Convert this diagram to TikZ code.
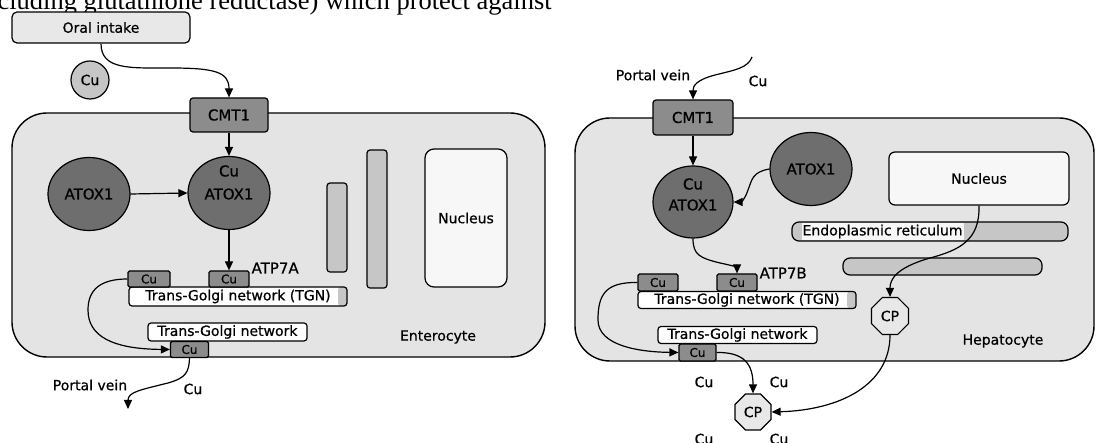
\documentclass[tikz,border=0pt]{standalone}
\usepackage{fontspec}
\setmainfont{DejaVu Sans}[UprightFeatures={FakeBold=0.7}]
\newfontfamily\timesf{Liberation Serif}
\usetikzlibrary{arrows.meta,shapes.geometric}
\definecolor{cellgray}{HTML}{E4E4E4}
\definecolor{boxdark}{HTML}{8C8C8C}
\definecolor{circdark}{HTML}{6E6E6E}
\definecolor{bargray}{HTML}{C6C6C6}
\definecolor{lightfill}{HTML}{E8E8E8}
\definecolor{nucfill}{HTML}{F7F7F7}
\tikzset{
  cell/.style={draw, line width=1.4pt, fill=cellgray, rounded corners=35pt},
  lab/.style={font=\fontsize{14}{16}\selectfont, inner sep=0pt},
  big/.style={font=\fontsize{15}{17}\selectfont},
  darkbox/.style={draw, fill=boxdark, rounded corners=3pt, inner sep=0pt, big},
  atox/.style={ellipse, draw, fill=circdark, inner sep=0pt, minimum width=82pt, minimum height=73pt, big},
  cubox/.style={draw, fill=boxdark, rounded corners=1.5pt, inner sep=0pt, minimum width=40pt, minimum height=16pt, font=\fontsize{12}{13}\selectfont},
  tgn/.style={draw, fill=white, rounded corners=3pt, inner sep=0pt, lab},
  tgnend/.style={path picture={\fill[bargray] ([xshift=-9pt]path picture bounding box.north east) rectangle (path picture bounding box.south east);}},
  bar/.style={draw, fill=bargray, rounded corners=3pt, inner sep=0pt},
  nuc/.style={draw, fill=nucfill, rounded corners=9pt, inner sep=0pt, lab},
  cp/.style={regular polygon, regular polygon sides=8, draw, fill=lightfill, inner sep=0pt, minimum size=40pt, lab},
  arr/.style={-{Triangle[length=9pt,width=8pt]}},
}
\begin{document}
\begin{tikzpicture}[x=1pt,y=-1pt,line width=1.2pt]
\useasboundingbox (0,0) rectangle (1096,443);
% cut-off text line at the top
\node[font=\timesf\fontsize{26.5}{28}\selectfont, anchor=base west, inner sep=0pt] (toptext) at (-3,10) {cluding glutathione reductase) which protect against};

% ---------------- Left: enterocyte ----------------
\draw[cell] (12,113) rectangle (545,357);
\node[draw, fill=lightfill, rounded corners=5pt, minimum width=178pt, minimum height=31pt, inner sep=0pt, lab] (oral) at (101,27.5) {Oral intake};
\node[circle, draw, fill=bargray, minimum size=38pt, inner sep=0pt, lab] (cu0) at (90,80) {Cu};
\node[darkbox, minimum width=78pt, minimum height=34pt] (cmtL) at (229,115) {CMT1};
\node[atox] (atoxL) at (89,194) {ATOX1};
\node[atox] (cuatoxL) at (229,193) {};
\node[big, inner sep=0pt] (cuatoxLa) at (229,171) {Cu};
\node[big, inner sep=0pt] (cuatoxLb) at (229,194) {ATOX1};
\node[bar, minimum width=20pt, minimum height=89pt] (barL1) at (337,227.5) {};
\node[bar, minimum width=20pt, minimum height=138pt] (barL2) at (377,219) {};
\node[nuc, minimum width=82pt, minimum height=138pt] (nucL) at (466,218) {Nucleus};
\node[tgn, tgnend, minimum width=218pt, minimum height=19pt] (tgnL) at (238,296.5) {Trans-Golgi network (TGN)};
\node[cubox, minimum width=42pt] (cuL1) at (149,279) {Cu};
\node[cubox] (cuL2) at (229,279) {Cu};
\node[big, anchor=west, inner sep=0pt] (atp7a) at (251,268) {ATP7A};
\node[tgn, minimum width=159pt, minimum height=18pt] (tgn2L) at (227.5,332) {Trans-Golgi network};
\node[cubox, minimum width=38pt] (cuL3) at (189.5,349.5) {Cu};
\node[lab] (enter) at (438,337) {Enterocyte};
\node[lab] (pvL) at (90,385) {Portal vein};
\node[lab] (cuLout) at (193,389) {Cu};
\coordinate (pvLend) at (128,409);

\draw[arr] (oral.south) .. controls (101,70) and (130,68) .. (170,68) .. controls (215,68) and (229,72) .. (cmtL.north);
\draw[arr] (cmtL.south) -- (cuatoxL.north);
\draw[arr] (atoxL.east) -- (cuatoxL.west);
\draw[arr] (cuatoxL.south) -- (cuL2.north);
\draw[arr] (cuL1.west) .. controls (100,279) and (88,290) .. (88,310) .. controls (88,336) and (112,349) .. (cuL3.west);
\draw[arr] (cuL3.south) .. controls (189,372) and (186,378) .. (168,383) .. controls (140,390) and (128,392) .. (pvLend);

% ---------------- Right: hepatocyte ----------------
\draw[cell] (575,118) rectangle (1094,361);
\node[lab] (pvR) at (653,75) {Portal vein};
\node[lab] (cuRin) at (758,81) {Cu};
\coordinate (cuRstart) at (752,57);
\node[darkbox, minimum width=80pt, minimum height=35pt] (cmtR) at (693,117.5) {CMT1};
\node[atox, minimum width=80pt, minimum height=72pt] (cuatoxR) at (693,202) {};
\node[big, inner sep=0pt] (cuatoxRa) at (693,184) {Cu};
\node[big, inner sep=0pt] (cuatoxRb) at (693,205) {ATOX1};
\node[atox] (atoxR) at (811,169) {ATOX1};
\node[nuc, rounded corners=6pt, minimum width=180pt, minimum height=53pt] (nucR) at (979,178.5) {Nucleus};
\node[bar, rounded corners=7pt, minimum width=276pt, minimum height=19pt] (erR) at (930,231.5) {};
\node[lab, fill=nucfill, anchor=west, inner ysep=2pt, inner xsep=1pt] (erlab) at (801,231.5) {Endoplasmic reticulum};
\node[bar, rounded corners=7pt, minimum width=199pt, minimum height=17pt] (bar2R) at (942.5,266.5) {};
\node[tgn, tgnend, minimum width=218pt, minimum height=17pt] (tgnR) at (747,300) {Trans-Golgi network (TGN)};
\node[cubox, minimum height=17pt] (cuR1) at (658,282.5) {Cu};
\node[cubox, minimum height=17pt] (cuR2) at (737,282.5) {Cu};
\node[big, anchor=west, inner sep=0pt] (atp7b) at (759,273) {ATP7B};
\node[tgn, minimum width=159pt, minimum height=17pt] (tgn2R) at (737.5,335) {Trans-Golgi network};
\node[cubox, minimum width=37pt, minimum height=17pt] (cuR3) at (697.5,352.5) {Cu};
\node[cp] (cpT) at (890,316) {CP};
\node[cp, minimum size=39pt] (cpB) at (753,412) {CP};
\node[lab] (hep) at (1003,341) {Hepatocyte};
\node[lab] (cuB1) at (704,382) {Cu};
\node[lab] (cuB2) at (779,382) {Cu};
\node[lab] (cuB3) at (704,439) {Cu};
\node[lab] (cuB4) at (779,439) {Cu};

\draw[arr] (cuRstart) .. controls (748,68) and (735,70) .. (715,75) .. controls (696,80) and (693,86) .. (cmtR.north);
\draw[arr] (cmtR.south) -- (cuatoxR.north);
\draw[arr] (atoxR.west) .. controls (752,172) and (752,180) .. (748,190) .. controls (745,199) and (741,202) .. (cuatoxR.east);
\draw[arr] (cuatoxR.south) .. controls (693,255) and (700,258) .. (720,263) .. controls (735,266) and (737,268) .. (cuR2.north);
\draw[arr] (cuR1.west) .. controls (605,282) and (598,295) .. (598,320) .. controls (598,346) and (640,352) .. (cuR3.west);
\draw[arr] (cuR3.east) .. controls (745,352) and (753,365) .. (cpB.north);
\draw[arr] (nucR.south) .. controls (980,240) and (960,250) .. (930,258) .. controls (895,268) and (890,280) .. (cpT.north);
\draw[arr] (cpT.south) .. controls (890,385) and (840,410) .. (cpB.east);
\end{tikzpicture}
\end{document}
